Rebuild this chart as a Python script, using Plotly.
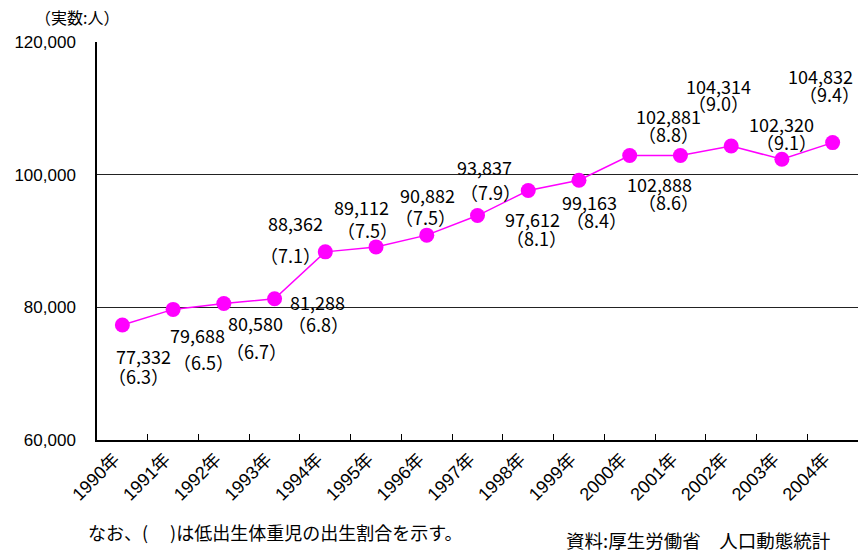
import plotly.graph_objects as go

years = ["1990年", "1991年", "1992年", "1993年", "1994年", "1995年", "1996年", "1997年",
         "1998年", "1999年", "2000年", "2001年", "2002年", "2003年", "2004年"]
counts = [77332, 79688, 80580, 81288, 88362, 89112, 90882, 93837,
          97612, 99163, 102888, 102881, 104314, 102320, 104832]
ratios = ["6.3", "6.5", "6.7", "6.8", "7.1", "7.5", "7.5", "7.9",
          "8.1", "8.4", "8.6", "8.8", "9.0", "9.1", "9.4"]

# label offsets in pixels (dx, dy with dy positive downward) for value line and ratio line
val_off = [(21, 31), (24, 26), (32, 20), (43, 3), (-30, -29), (-15, -40), (1, -40), (7, -49),
           (4, 28), (11, 22), (30, 28), (-12, -40), (-13, -60), (0, -35), (-12, -67)]
rat_off = [(16, 51), (30, 53), (33, 48), (44, 25), (-35, 3), (-9, -17), (-1, -18), (13, -24),
           (8, 47), (18, 40), (39, 46), (-12, -22), (-13, -43), (5, -17), (-3, -49)]

LABEL_FONT = dict(family="Noto Sans CJK JP", size=18, color="#000000")

fig = go.Figure()
fig.add_trace(go.Scatter(
    x=years, y=counts, mode="lines+markers",
    line=dict(color="#FF00FF", width=1.5),
    marker=dict(color="#FF00FF", size=15),
    showlegend=False, hoverinfo="skip",
))

annotations = []
for i, (yr, c, r) in enumerate(zip(years, counts, ratios)):
    annotations.append(dict(x=yr, y=c, xref="x", yref="y", text=f"{c:,}", showarrow=False,
                            xshift=val_off[i][0], yshift=-val_off[i][1], font=LABEL_FONT))
    annotations.append(dict(x=yr, y=c, xref="x", yref="y", text=f"（{r}）", showarrow=False,
                            xshift=rat_off[i][0], yshift=-rat_off[i][1], font=LABEL_FONT))

annotations.append(dict(x=33, y=17, text="（実数:人）", showarrow=False,
                        xanchor="left", yanchor="middle", font=dict(family="Noto Sans CJK JP", size=16, color="#000")))
annotations.append(dict(x=86, y=532, text="なお、(　 )は低出生体重児の出生割合を示す。", showarrow=False,
                        xanchor="left", yanchor="middle", font=dict(family="Noto Sans CJK JP", size=18, color="#000")))
annotations.append(dict(x=564, y=540, text="資料:厚生労働省　人口動態統計", showarrow=False,
                        xanchor="left", yanchor="middle", font=dict(family="Noto Sans CJK JP", size=18.5, color="#000")))

# convert pixel-positioned page annotations to paper coords
W, H = 859, 552
ML, MR, MT, MB = 97, 1, 42, 112
pw, ph = W - ML - MR, H - MT - MB
for a in annotations[-3:]:
    px, py = a["x"], a["y"]
    a["xref"] = "paper"; a["yref"] = "paper"
    a["x"] = (px - ML) / pw
    a["y"] = 1 - (py - MT) / ph

fig.update_layout(
    width=W, height=H,
    margin=dict(l=ML, r=MR, t=MT, b=MB, pad=0),
    paper_bgcolor="white", plot_bgcolor="white",
    annotations=annotations,
    font=dict(family="Liberation Sans, Arial", color="#000"),
)
fig.update_xaxes(
    type="category", categoryorder="array", categoryarray=years,
    tickangle=-45, tickfont=dict(family="Liberation Sans, Noto Sans CJK JP", size=18),
    ticklabelshift=-8,
    showline=True, linecolor="#000", linewidth=1.5, mirror=False,
    ticks="inside", ticklen=6, tickcolor="#000", tickson="boundaries",
    showgrid=False, range=[-0.5, 14.5],
)
fig.update_yaxes(
    range=[60000, 120000], tickvals=[60000, 80000, 100000, 120000],
    ticktext=["60,000", "80,000", "100,000", "120,000"],
    tickfont=dict(family="Liberation Sans", size=17),
    showline=True, linecolor="#000", linewidth=1.5,
    showgrid=True, gridcolor="#222", gridwidth=1,
    ticks="", ticklabelstandoff=16, zeroline=False,
)

fig.write_html("out.html")
